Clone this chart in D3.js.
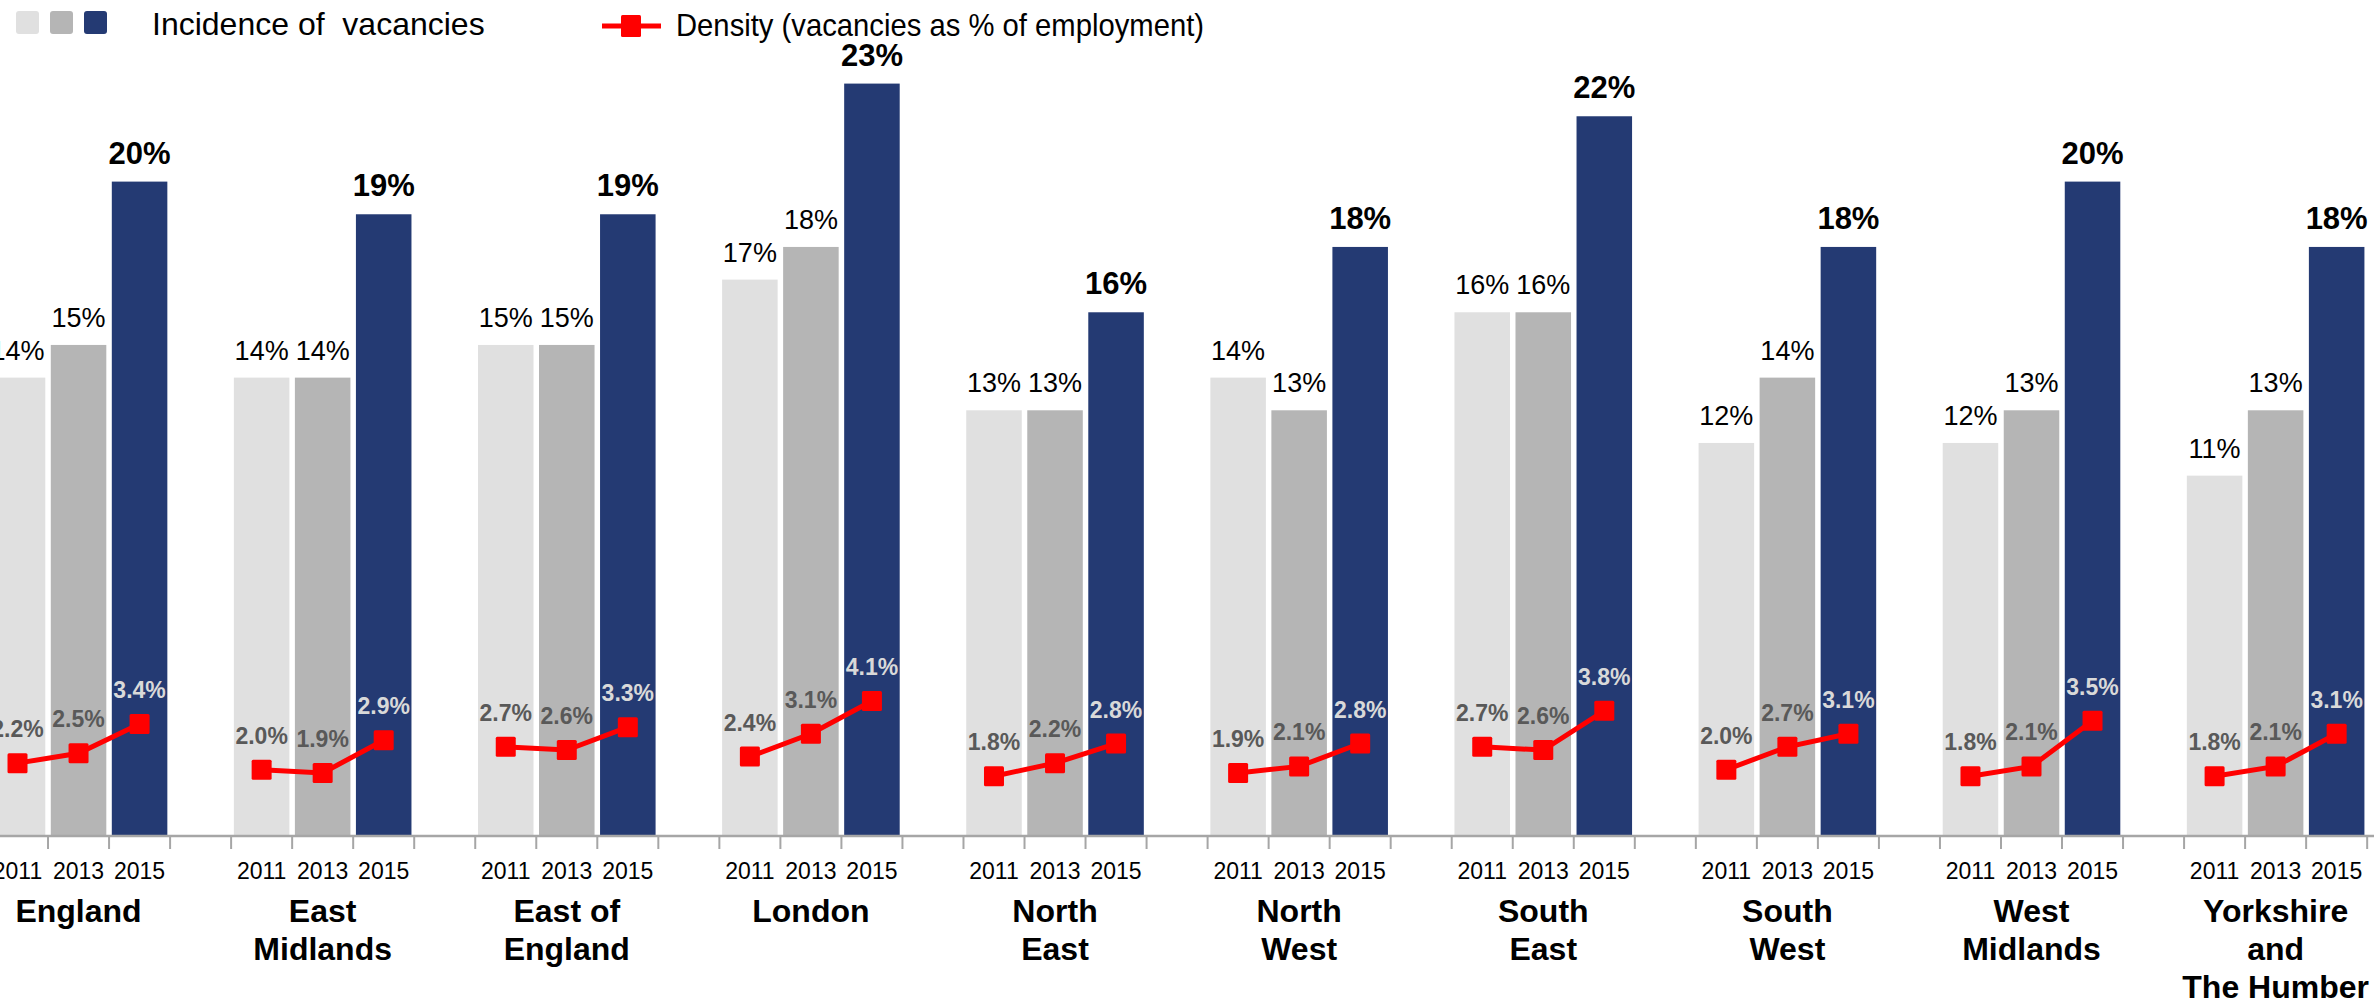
<!DOCTYPE html>
<html>
<head>
<meta charset="utf-8">
<script src="https://cdn.jsdelivr.net/npm/d3@7"></script>
<style>
  body { margin: 0; background: #fff; }
  svg { display: block; font-family: "Liberation Sans", Arial, sans-serif; }
</style>
</head>
<body>
<div id="chart"></div>
<script>
// Data
const regions = ['England', 'East Midlands', 'East of England', 'London', 'North East',
    'North West', 'South East', 'South West', 'West Midlands', 'Yorkshire and The Humber']
const regionLines = [['England'], ['East', 'Midlands'], ['East of', 'England'], ['London'], ['North', 'East'],
    ['North', 'West'], ['South', 'East'], ['South', 'West'], ['West', 'Midlands'], ['Yorkshire', 'and', 'The Humber']]
const years = ['2011', '2013', '2015']

// Incidence of vacancies (%)
const incidence2011 = [14, 14, 15, 17, 13, 14, 16, 12, 12, 11]
const incidence2013 = [15, 14, 15, 18, 13, 13, 16, 14, 13, 13]
const incidence2015 = [20, 19, 19, 23, 16, 18, 22, 18, 20, 18]

// Density (vacancies as % of employment)
const density2011 = [2.2, 2.0, 2.7, 2.4, 1.8, 1.9, 2.7, 2.0, 1.8, 1.8]
const density2013 = [2.5, 1.9, 2.6, 3.1, 2.2, 2.1, 2.6, 2.7, 2.1, 2.1]
const density2015 = [3.4, 2.9, 3.3, 4.1, 2.8, 2.8, 3.8, 3.1, 3.5, 3.1]

const WIDTH = 2374
const HEIGHT = 999
const BASE = 835
const COLORS = { '2011': '#e0e0e0', '2013': '#b5b5b5', '2015': '#243a73' }

const svg = d3.select('#chart')
    .append('svg')
    .attr('width', WIDTH)
    .attr('height', HEIGHT)

// Scales
const groupStep = 244.12
const xGroup = d3.scaleBand()
    .domain(regions)
    .range([-13, -13 + groupStep * regions.length])
const slots = [...years, 'gap']
const xSlot = d3.scaleBand()
    .domain(slots)
    .range([0, groupStep])
const xYear = d3.scaleBand()
    .domain(slots)
    .range([0, groupStep])
    .paddingInner(0.09)
    .paddingOuter(0.045)
const yScale = d3.scaleLinear()
    .domain([0, 25])
    .range([BASE, BASE - 25 * 32.67])

const incidence = { '2011': incidence2011, '2013': incidence2013, '2015': incidence2015 }
const density = { '2011': density2011, '2013': density2013, '2015': density2015 }

const rows = []
regions.forEach((r, i) => {
    years.forEach(y => {
        rows.push({ region: r, year: y, inc: incidence[y][i], den: density[y][i] })
    })
})
const cx = d => xGroup(d.region) + xYear(d.year) + xYear.bandwidth() / 2

// Bars
svg.selectAll('rect.bar')
    .data(rows)
    .enter()
    .append('rect')
    .attr('class', 'bar')
    .attr('x', d => xGroup(d.region) + xYear(d.year))
    .attr('y', d => yScale(d.inc))
    .attr('width', xYear.bandwidth())
    .attr('height', d => BASE - yScale(d.inc))
    .attr('fill', d => COLORS[d.year])

// Bar labels
svg.selectAll('text.inc')
    .data(rows)
    .enter()
    .append('text')
    .attr('class', 'inc')
    .attr('x', cx)
    .attr('y', d => yScale(d.inc) - 18)
    .attr('text-anchor', 'middle')
    .attr('font-size', d => d.year === '2015' ? 31 : 27)
    .attr('font-weight', d => d.year === '2015' ? 'bold' : 'normal')
    .attr('fill', '#000')
    .text(d => d.inc + '%')

// Axis line and ticks at slot boundaries
svg.append('line')
    .attr('x1', xGroup.range()[0])
    .attr('x2', xGroup.range()[1])
    .attr('y1', BASE + 1)
    .attr('y2', BASE + 1)
    .attr('stroke', '#a6a6a6')
    .attr('stroke-width', 2.5)

const tickXs = []
regions.forEach(r => slots.forEach(s => tickXs.push(xGroup(r) + xSlot(s))))
svg.selectAll('line.tick')
    .data(tickXs.slice(1))
    .enter()
    .append('line')
    .attr('class', 'tick')
    .attr('x1', d => d)
    .attr('x2', d => d)
    .attr('y1', BASE)
    .attr('y2', BASE + 14)
    .attr('stroke', '#a6a6a6')
    .attr('stroke-width', 2)

// Year labels
svg.selectAll('text.year')
    .data(rows)
    .enter()
    .append('text')
    .attr('class', 'year')
    .attr('x', cx)
    .attr('y', 879)
    .attr('text-anchor', 'middle')
    .attr('font-size', 23)
    .attr('fill', '#000')
    .text(d => d.year)

// Region labels
const regionText = svg.selectAll('text.region')
    .data(regions)
    .enter()
    .append('text')
    .attr('class', 'region')
    .attr('text-anchor', 'middle')
    .attr('font-size', 32)
    .attr('font-weight', 'bold')
    .attr('fill', '#000')
regionText.selectAll('tspan')
    .data((d, i) => regionLines[i].map(l => ({ region: d, line: l })))
    .enter()
    .append('tspan')
    .attr('x', d => xGroup(d.region) + (xYear('2011') + xYear('2015') + xYear.bandwidth()) / 2)
    .attr('y', (d, j) => 922 + j * 38)
    .text(d => d.line)

// Density line
const line = d3.line()
    .x(cx)
    .y(d => yScale(d.den))
regions.forEach(r => {
    svg.append('path')
        .datum(rows.filter(d => d.region === r))
        .attr('d', line)
        .attr('fill', 'none')
        .attr('stroke', '#ff0000')
        .attr('stroke-width', 5)
})
svg.selectAll('rect.marker')
    .data(rows)
    .enter()
    .append('rect')
    .attr('class', 'marker')
    .attr('x', d => cx(d) - 10)
    .attr('y', d => yScale(d.den) - 10)
    .attr('width', 20)
    .attr('height', 20)
    .attr('rx', 1.5)
    .attr('fill', '#ff0000')

// Density labels
svg.selectAll('text.den')
    .data(rows)
    .enter()
    .append('text')
    .attr('class', 'den')
    .attr('x', cx)
    .attr('y', d => yScale(d.den) - 26)
    .attr('text-anchor', 'middle')
    .attr('font-size', 23)
    .attr('font-weight', 'bold')
    .attr('fill', d => d.year === '2015' ? '#d9d9d9' : '#595959')
    .text(d => d.den.toFixed(1) + '%')

// Legend
const legend = svg.append('g')
legend.selectAll('rect')
    .data(years)
    .enter()
    .append('rect')
    .attr('x', (d, i) => 16 + i * 34)
    .attr('y', 11)
    .attr('width', 23)
    .attr('height', 23)
    .attr('rx', 3)
    .attr('fill', d => COLORS[d])
legend.append('text')
    .attr('x', 152)
    .attr('y', 35)
    .attr('font-size', 32)
    .style('white-space', 'pre')
    .text('Incidence of  vacancies')
legend.append('line')
    .attr('x1', 602)
    .attr('x2', 661)
    .attr('y1', 26)
    .attr('y2', 26)
    .attr('stroke', '#ff0000')
    .attr('stroke-width', 5)
legend.append('rect')
    .attr('x', 621)
    .attr('y', 15)
    .attr('width', 20)
    .attr('height', 22)
    .attr('rx', 1.5)
    .attr('fill', '#ff0000')
legend.append('text')
    .attr('x', 676)
    .attr('y', 36)
    .attr('font-size', 32)
    .attr('textLength', 528)
    .attr('lengthAdjust', 'spacingAndGlyphs')
    .text('Density (vacancies as % of employment)')
</script>
</body>
</html>
